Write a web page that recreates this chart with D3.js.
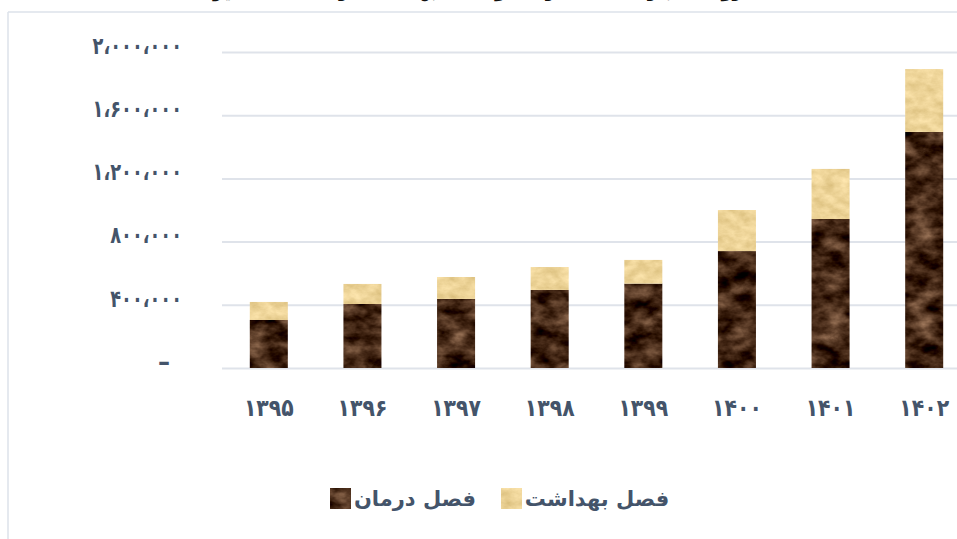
<!DOCTYPE html>
<html>
<head>
<meta charset="utf-8">
<script src="https://cdn.jsdelivr.net/npm/d3@7"></script>
<style>
  html, body { margin: 0; padding: 0; background: #ffffff; overflow: hidden; }
  svg { display: block; font-family: "DejaVu Sans", sans-serif; }
</style>
</head>
<body>
<svg id="chart" width="957" height="539"></svg>
<script>
// chart values
const years = ["۱۳۹۵", "۱۳۹۶", "۱۳۹۷", "۱۳۹۸", "۱۳۹۹", "۱۴۰۰", "۱۴۰۱", "۱۴۰۲"];
const darman = [304000, 405000, 437000, 494000, 534000, 740000, 943000, 1494000];
const behdasht = [114000, 127000, 139000, 145000, 150000, 260000, 317000, 398000];
const seriesNames = ["فصل درمان", "فصل بهداشت"];
const yTicks = [0, 400000, 800000, 1200000, 1600000, 2000000];
const title = "روند اعتبارات فصل درمان و فصل بهداشت در سال‌های اخیر";

const svg = d3.select("#chart");
const width = 957, height = 539;

const faLocale = d3.formatLocale({
  decimal: ".",
  thousands: "،",
  grouping: [3],
  currency: ["", ""],
  numerals: ["۰", "۱", "۲", "۳", "۴", "۵", "۶", "۷", "۸", "۹"]
});
const fmt = faLocale.format(",d");

// textures
const defs = svg.append("defs");
function texture(id, freq, rows) {
  const f = defs.append("filter").attr("id", id)
    .attr("x", 0).attr("y", 0).attr("width", 1).attr("height", 1)
    .attr("color-interpolation-filters", "sRGB");
  f.append("feTurbulence").attr("type", "fractalNoise")
    .attr("baseFrequency", freq).attr("numOctaves", 4).attr("seed", 7).attr("result", "noise");
  f.append("feColorMatrix").attr("in", "noise").attr("type", "matrix")
    .attr("values", rows).attr("result", "col");
  f.append("feComposite").attr("in", "col").attr("in2", "SourceGraphic").attr("operator", "in");
}
texture("marble", "0.045 0.07",
  "0.85 0 0 0 -0.16  0.75 0 0 0 -0.22  0.65 0 0 0 -0.24  0 0 0 0 1");
texture("paper", "0.08 0.12",
  "0.18 0 0 0 0.84  0.2 0 0 0 0.73  0.25 0 0 0 0.47  0 0 0 0 1");
const fills = ["#3e2210", "#ecd49c"];
const filters = ["url(#marble)", "url(#paper)"];

// frame lines
svg.append("line").attr("x1", 8).attr("x2", width).attr("y1", 12).attr("y2", 12)
  .attr("stroke", "#dde2ea").attr("stroke-width", 1.5);
svg.append("line").attr("x1", 8).attr("x2", 8).attr("y1", 12).attr("y2", height)
  .attr("stroke", "#dde2ea").attr("stroke-width", 1.5);

// clipped title (cut off at the top edge, as in the source)
svg.append("text").attr("x", 478).attr("y", -3)
  .attr("text-anchor", "middle").attr("direction", "rtl")
  .attr("font-size", 18).attr("font-weight", "bold").attr("fill", "#111")
  .text(title);

// scales
const x = d3.scaleBand().domain(years).range([222, 971])
  .paddingInner(0.594).paddingOuter(0.297);
const y = d3.scaleLinear().domain([0, 2000000]).range([368, 52]);

// y axis with gridlines
const yAxis = svg.append("g").attr("transform", "translate(222,0)")
  .call(d3.axisLeft(y).tickValues(yTicks).tickSize(-(width - 222)).tickPadding(40)
    .tickFormat(d => d === 0 ? "–" : fmt(d)));
yAxis.select(".domain").remove();
yAxis.selectAll(".tick line").attr("stroke", "#dfe3ea").attr("stroke-width", 2);
yAxis.selectAll(".tick text")
  .attr("font-family", "DejaVu Sans").attr("font-size", 24).attr("font-weight", "bold")
  .attr("fill", "#44546a").attr("dy", "0.05em")
  .attr("x", d => d === 0 ? -52 : -40)
  .each(function(d) {
    if (d === 0) return;
    const w = this.getComputedTextLength();
    d3.select(this).attr("textLength", w * 0.74).attr("lengthAdjust", "spacingAndGlyphs");
  });

// stacked bars
const stackData = years.map((yr, i) => ({ year: yr, darman: darman[i], behdasht: behdasht[i] }));
const stack = d3.stack().keys(["darman", "behdasht"])(stackData);
svg.append("g").selectAll("g").data(stack).join("g")
  .attr("fill", (d, i) => fills[i])
  .attr("filter", (d, i) => filters[i])
  .selectAll("rect").data(d => d).join("rect")
  .attr("x", d => x(d.data.year))
  .attr("width", x.bandwidth())
  .attr("y", d => y(d[1]))
  .attr("height", d => y(d[0]) - y(d[1]));

// x axis labels
const xAxis = svg.append("g").attr("transform", "translate(0,368)")
  .call(d3.axisBottom(x).tickSize(0).tickPadding(31));
xAxis.select(".domain").remove();
xAxis.selectAll(".tick text")
  .attr("font-family", "DejaVu Sans").attr("font-size", 24).attr("font-weight", "bold")
  .attr("fill", "#44546a")
  .each(function() {
    const w = this.getComputedTextLength();
    d3.select(this).attr("textLength", w * 0.85).attr("lengthAdjust", "spacingAndGlyphs");
  });

// legend
const legend = [
  { name: seriesNames[0], sx: 330, tx: 415, i: 0 },
  { name: seriesNames[1], sx: 501, tx: 597, i: 1 }
];
const lg = svg.append("g").selectAll("g").data(legend).join("g");
lg.append("rect").attr("x", d => d.sx).attr("y", 488).attr("width", 21).attr("height", 21)
  .attr("fill", d => fills[d.i]).attr("filter", d => filters[d.i]);
lg.append("text").attr("x", d => d.tx).attr("y", 506)
  .attr("text-anchor", "middle").attr("direction", "rtl")
  .attr("font-size", 21).attr("font-weight", "bold").attr("fill", "#44546a")
  .text(d => d.name);
</script>
</body>
</html>
